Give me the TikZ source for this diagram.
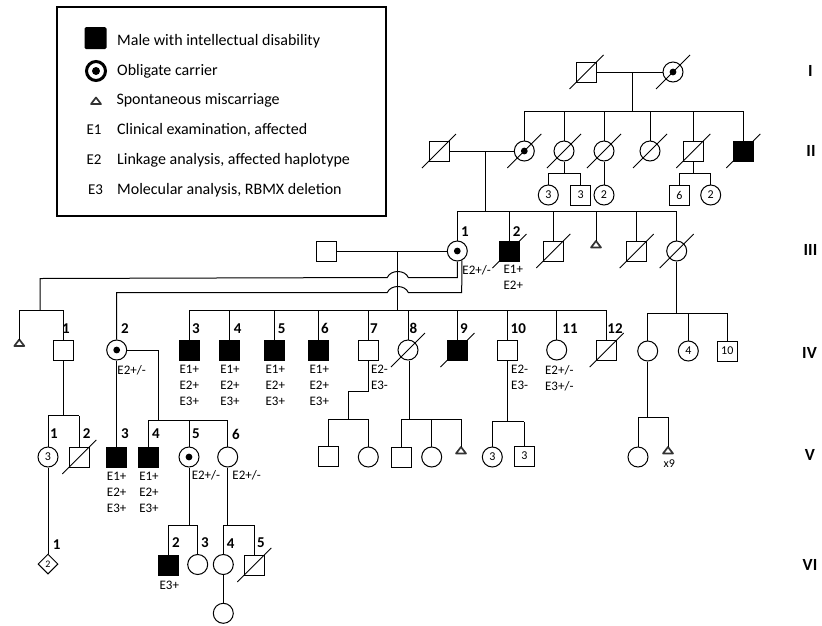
\documentclass[tikz,border=0pt]{standalone}
\usepackage{fontspec}
\setmainfont{Carlito}
\usetikzlibrary{shapes.geometric}
\newcommand\decd[1]{\draw[line width=0.8pt] ([shift={(-17,17)}]#1.center) -- ([shift={(17,-17)}]#1.center);}
\newcommand\carr[1]{\fill (#1.center) circle (3.4);}
\newcommand\mis[3]{\coordinate (#1) at (#2,#3); \draw[tri] (#1) -- ++(5,6.5) -- ++(-10,0) -- cycle;}
\begin{document}
\begin{tikzpicture}[x=1pt,y=-1pt,line width=1pt,
  sq/.style={draw,rectangle,minimum size=20pt,inner sep=0pt,fill=white,font=\fontsize{12}{12}\selectfont},
  ci/.style={draw,circle,minimum size=20pt,inner sep=0pt,fill=white,font=\fontsize{12}{12}\selectfont},
  aff/.style={sq,fill=black},
  dm/.style={draw,diamond,aspect=1,minimum size=20pt,inner sep=0pt,fill=white,font=\fontsize{10}{10}\selectfont},
  tri/.style={line width=1.7pt,line join=round,draw=black!80,fill=white},
  num/.style={font=\bfseries\fontsize{15}{15}\selectfont,anchor=base,inner sep=0pt},
  elab/.style={font=\fontsize{13}{16}\selectfont,align=center,inner sep=0pt,anchor=north},
  elabl/.style={font=\fontsize{13}{16}\selectfont,align=left,inner sep=0pt,anchor=north west},
  gen/.style={font=\bfseries\fontsize{17}{17}\selectfont,inner sep=0pt},
  legt/.style={font=\fontsize{16}{16}\selectfont,anchor=base west,inner sep=0pt},
  lege/.style={font=\fontsize{15}{15}\selectfont,anchor=base,inner sep=0pt}]
\useasboundingbox (0,0) rectangle (822,625);

% ---------- legend ----------
\node[draw,line width=2pt,minimum width=329pt,minimum height=209pt,inner sep=0pt,anchor=north west] (leg) at (56,6) {};
\node[fill=black,minimum size=22pt,inner sep=0pt,rounded corners=1.5pt] (lg1) at (95.5,38) {};
\node[draw,circle,line width=3pt,minimum size=19pt,inner sep=0pt] (lg2) at (96,71) {};
\fill (lg2.center) circle (4);
\mis{lg3}{96}{97.5}
\node[lege] (lge1) at (94,134) {E1};
\node[lege] (lge2) at (94,164) {E2};
\node[lege] (lge3) at (95.5,194) {E3};
\node[legt] (lt1) at (116.7,45.7) {Male with intellectual disability};
\node[legt] (lt2) at (116.7,75) {Obligate carrier};
\node[legt] (lt3) at (116,104.5) {Spontaneous miscarriage};
\node[legt] (lt4) at (116.7,134) {Clinical examination,\ affected};
\node[legt] (lt5) at (116.7,164) {Linkage analysis, affected haplotype};
\node[legt] (lt6) at (116.7,194) {Molecular analysis, RBMX deletion};

% ---------- generation labels ----------
\node[gen] (gI) at (810.5,71) {I};
\node[gen] (gII) at (811,151) {II};
\node[gen] (gIII) at (810.5,250) {III};
\node[gen] (gIV) at (809.5,353) {IV};
\node[gen] (gV) at (810,455) {V};
\node[gen] (gVI) at (810,565) {VI};

% ---------- generation I ----------
\node[sq] (I1) at (586.5,72) {};
\node[ci] (I2) at (673,72) {};
\carr{I2}
\decd{I1}\decd{I2}
\draw (I1) -- (I2);
\coordinate (mI) at (632.3,72);
\coordinate (sI) at (632.3,111);
\draw (mI) -- (sI);

% ---------- generation II ----------
\node[sq] (II1) at (439,151) {};
\node[ci] (II2) at (524.3,151) {};
\node[ci] (II3) at (564,151) {};
\node[ci] (II4) at (604,151) {};
\node[ci] (II5) at (650,151) {};
\node[sq] (II6) at (693.3,151) {};
\node[aff] (II7) at (743.3,151) {};
\carr{II2}
\foreach \n in {II1,II2,II3,II4,II5,II6,II7} {\decd{\n}}
\draw (II2.north |- sI) -- (II7.north |- sI);
\foreach \n in {II2,II3,II4,II5,II6,II7} {\draw (\n.north) -- (\n.north |- sI);}
\draw (II1) -- (II2);
\coordinate (mII) at (485,151);
\coordinate (sII) at (485,211);
\draw (mII) -- (sII);

% offspring of II3, II4, II6
\node[ci] (c3a) at (548.3,195) {3};
\node[sq] (c3b) at (580.7,195) {3};
\coordinate (sII3) at (564,173.3);
\draw (II3.south) -- (sII3);
\draw (c3a.north |- sII3) -- (c3b.north |- sII3);
\draw (c3a.north) -- (c3a.north |- sII3);
\draw (c3b.north) -- (c3b.north |- sII3);
\node[ci] (c4a) at (604,195) {2};
\draw (II4.south) -- (c4a.north);
\node[sq] (c6a) at (679.3,195) {6};
\node[ci] (c6b) at (710.7,195) {2};
\coordinate (sII6) at (693.3,173.3);
\draw (II6.south) -- (sII6);
\draw (c6a.north |- sII6) -- (c6b.north |- sII6);
\draw (c6a.north) -- (c6a.north |- sII6);
\draw (c6b.north) -- (c6b.north |- sII6);

% ---------- generation III ----------
\node[sq] (H) at (326.7,251) {};
\node[ci] (III1) at (457.3,251) {};
\node[aff] (III2) at (509.5,251) {};
\node[sq] (III3) at (553.3,251) {};
\mis{III4}{596}{241}
\node[sq] (III5) at (636.7,251) {};
\node[ci] (III6) at (676.7,251) {};
\carr{III1}
\foreach \n in {III2,III3,III5,III6} {\decd{\n}}
\draw (III1.north |- sII) -- (III6.north |- sII);
\foreach \n in {III1,III2,III3,III5,III6} {\draw (\n.north) -- (\n.north |- sII);}
\draw (III4) -- (III4 |- sII);
\node[num] (nIII1) at (465,236) {1};
\node[num] (nIII2) at (516.7,236) {2};
\node[elab] (eIII1) at (476.7,264.8) {E2+/-};
\node[elab] (eIII2) at (513.3,264.8) {E1+\\E2+};

\draw (H) -- (III1);
\coordinate (mIII) at (397.7,251);
\coordinate (sIII) at (397.7,310);
\draw (mIII) -- (sIII);

% ---------- generation IV ----------
\mis{IVt}{19.3}{339.5}
\node[sq] (IV1) at (63.3,350) {};
\node[ci] (IV2) at (116.7,350) {};
\node[aff] (IV3) at (189,350) {};
\node[aff] (IV4) at (229.3,350) {};
\node[aff] (IV5) at (274.3,350) {};
\node[aff] (IV6) at (318.7,350) {};
\node[sq] (IV7) at (368.3,350) {};
\node[ci] (IV8) at (408,350) {};
\node[aff] (IV9) at (457.5,350) {};
\node[sq] (IV10) at (507.5,350) {};
\node[ci] (IV11) at (556.7,350) {};
\node[sq] (IV12) at (606.7,350) {};
\node[ci] (IVr1) at (647.7,351) {};
\node[ci] (IVr2) at (688.3,351) {4};
\node[sq] (IVr3) at (727.3,351) {10};
\carr{IV2}
\foreach \n in {IV8,IV9,IV12} {\decd{\n}}

\draw (IV3.north |- sIII) -- (IV12.north |- sIII);
\foreach \n in {IV3,IV4,IV5,IV6,IV7,IV8,IV9,IV10,IV11,IV12} {\draw (\n.north) -- (\n.north |- sIII);}

% line from III1 to IV1 sibship, with hop
\coordinate (sA) at (40,310);
\draw (III1.south) -- (457.3,277.5) -- (408.3,277.5) .. controls (405,269.5) and (390.6,269.5) .. (387.3,277.5) -- (40,278.5) -- (sA);
\draw (IVt |- sA) -- (IV1.north |- sA);
\draw (IVt) -- (IVt |- sA);
\draw (IV1.north) -- (IV1.north |- sA);
% line from III1 to IV2, with hop
\draw (III1.-64) -- (461.7,292.5) -- (408.3,292.5) .. controls (405,284.5) and (390.6,284.5) .. (387.3,292.5) -- (116.7,292.5) -- (IV2.north);

% children of III6
\coordinate (sIII6) at (676.7,313.3);
\draw (III6.south) -- (sIII6);
\draw (IVr1.north |- sIII6) -- (IVr3.north |- sIII6);
\foreach \n in {IVr1,IVr2,IVr3} {\draw (\n.north) -- (\n.north |- sIII6);}

% labels IV
\node[num] (nIV1) at (66,333.5) {1};
\node[num] (nIV2) at (125,333.5) {2};
\node[num] (nIV3) at (196,333.5) {3};
\node[num] (nIV4) at (237.7,333.5) {4};
\node[num] (nIV5) at (281.7,333.5) {5};
\node[num] (nIV6) at (325,333.5) {6};
\node[num] (nIV7) at (374,333.5) {7};
\node[num] (nIV8) at (413.3,333.5) {8};
\node[num] (nIV9) at (464,333.5) {9};
\node[num] (nIV10) at (518.3,333.5) {10};
\node[num] (nIV11) at (570,333.5) {11};
\node[num] (nIV12) at (615,333.5) {12};
\node[elab] (eIV2) at (131.7,364.8) {E2+/-};
\node[elab] (eIV3) at (189.3,364.5) {E1+\\E2+\\E3+};
\node[elab] (eIV4) at (230,364.5) {E1+\\E2+\\E3+};
\node[elab] (eIV5) at (275.3,364.5) {E1+\\E2+\\E3+};
\node[elab] (eIV6) at (319.3,364.5) {E1+\\E2+\\E3+};
\node[elabl] (eIV7) at (370.5,364.8) {E2-\\E3-};
\node[elabl] (eIV10) at (510.7,364.8) {E2-\\E3-};
\node[elab] (eIV11) at (559.3,364.8) {E2+/-\\E3+/-};

% ---------- generation V ----------
\node[ci] (V1) at (48,457) {3};
\node[sq] (V2) at (79.3,457) {};
\node[aff] (V3) at (116.7,457) {};
\node[aff] (V4) at (148.3,457) {};
\node[ci] (V5) at (189,457) {};
\node[ci] (V6) at (227.7,457) {};
\node[sq] (V7a) at (328,456) {};
\node[ci] (V7b) at (368.3,457) {};
\node[sq] (V8a) at (401.7,457) {};
\node[ci] (V8b) at (431.7,457) {};
\mis{V8c}{461}{447}
\node[ci] (V10a) at (492.3,457) {3};
\node[sq] (V10b) at (524.3,456) {3};
\node[ci] (Vr1) at (638,457) {};
\mis{Vr2}{668}{447}
\carr{V5}
\decd{V2}

% IV1 children
\coordinate (sV1) at (63.3,415.7);
\draw (IV1.south) -- (sV1);
\draw (V1.north |- sV1) -- (V2.north |- sV1);
\draw (V1.north) -- (V1.north |- sV1);
\draw (V2.north) -- (V2.north |- sV1);
% IV2 children
\draw (IV2.south) -- (V3.north);
\coordinate (sV2) at (158.3,420);
\draw (IV2.east) -| (sV2);
\draw (V4.north |- sV2) -- (V6.north |- sV2);
\foreach \n in {V4,V5,V6} {\draw (\n.north) -- (\n.north |- sV2);}
% IV7 children
\coordinate (sV7) at (348.3,419.3);
\draw (IV7.south) -- (368.3,391) -- (348.3,391) -- (sV7);
\draw (V7a.north |- sV7) -- (V7b.north |- sV7);
\draw (V7a.north) -- (V7a.north |- sV7);
\draw (V7b.north) -- (V7b.north |- sV7);
% IV8 children
\coordinate (sV8) at (409,419.3);
\draw ([xshift=1pt]IV8.south) -- (sV8);
\draw (V8a.north |- sV8) -- (V8c |- sV8);
\draw (V8a.north) -- (V8a.north |- sV8);
\draw (V8b.north) -- (V8b.north |- sV8);
\draw (V8c) -- (V8c |- sV8);
% IV10 children
\coordinate (sV10) at (507.5,421.7);
\draw (IV10.south) -- (sV10);
\draw (V10a.north |- sV10) -- (V10b.north |- sV10);
\draw (V10a.north) -- (V10a.north |- sV10);
\draw (V10b.north) -- (V10b.north |- sV10);
% IVr1 children
\coordinate (sVr) at (647.7,417);
\draw (IVr1.south) -- (sVr);
\draw (Vr1.north |- sVr) -- (Vr2 |- sVr);
\draw (Vr1.north) -- (Vr1.north |- sVr);
\draw (Vr2) -- (Vr2 |- sVr);
\node[font=\fontsize{12}{12}\selectfont,inner sep=0pt] (x9) at (669.3,463.5) {x9};

% labels V
\node[num] (nV1) at (54,438.5) {1};
\node[num] (nV2) at (86.7,438.5) {2};
\node[num] (nV3) at (125,438.5) {3};
\node[num] (nV4) at (156,438.5) {4};
\node[num] (nV5) at (196,438.5) {5};
\node[num] (nV6) at (236,439.5) {6};
\node[elab] (eV3) at (116.7,471.8) {E1+\\E2+\\E3+};
\node[elab] (eV4) at (149,471.8) {E1+\\E2+\\E3+};
\node[elab] (eV5) at (206,469.8) {E2+/-};
\node[elab] (eV6) at (246.7,469.8) {E2+/-};

% ---------- generation VI ----------
\node[dm] (VI1) at (48,564) {2};
\node[aff] (VI2) at (168,565) {};
\node[ci] (VI3) at (197.7,564.5) {};
\node[ci] (VI4) at (223.3,564.5) {};
\node[sq] (VI5) at (254.3,565) {};
\node[ci] (VIc) at (223.3,613.3) {};
\decd{VI5}
\draw (V1.south) -- (VI1.north);
\coordinate (sVI5) at (189,525);
\draw (V5.south) -- (sVI5);
\draw (VI2.north |- sVI5) -- (VI3.north |- sVI5);
\draw (VI2.north) -- (VI2.north |- sVI5);
\draw (VI3.north) -- (VI3.north |- sVI5);
\coordinate (sVI6) at (227.7,525);
\draw (V6.south) -- (sVI6);
\draw (VI4.north |- sVI6) -- (VI5.north |- sVI6);
\draw (VI4.north) -- (VI4.north |- sVI6);
\draw (VI5.north) -- (VI5.north |- sVI6);
\draw (VI4.south) -- (VIc.north);
\node[num] (nVI1) at (56.7,549) {1};
\node[num] (nVI2) at (176,547.5) {2};
\node[num] (nVI3) at (205,547.5) {3};
\node[num] (nVI4) at (230.7,548) {4};
\node[num] (nVI5) at (261,547.5) {5};
\node[elab] (eVI2) at (169.3,580.5) {E3+};
\end{tikzpicture}
\end{document}
